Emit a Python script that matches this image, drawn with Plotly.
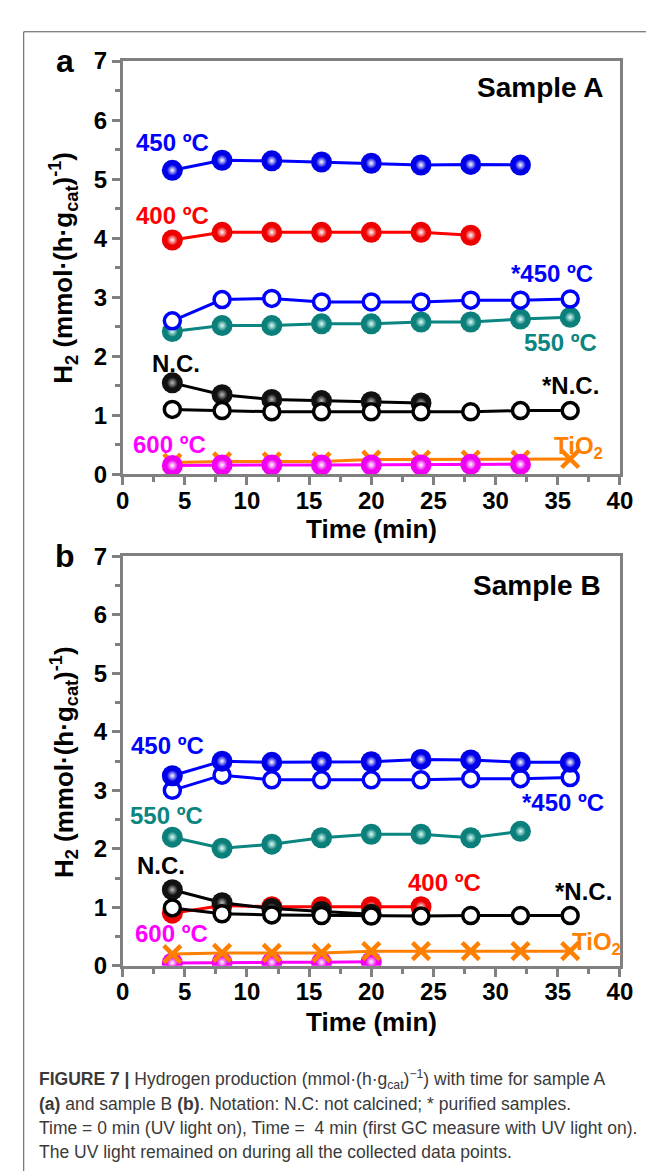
import plotly.graph_objects as go

# ---------------- data ----------------
T = [4, 8, 12, 16, 20, 24, 28, 32, 36]

# Sample A
a_450 = [5.15, 5.32, 5.31, 5.29, 5.27, 5.24, 5.25, 5.24]
a_400 = [3.97, 4.10, 4.10, 4.10, 4.10, 4.10, 4.05]
a_450p = [2.60, 2.96, 2.98, 2.92, 2.92, 2.92, 2.95, 2.95, 2.97]
a_550 = [2.42, 2.52, 2.52, 2.55, 2.55, 2.58, 2.58, 2.63, 2.66]
a_nc = [1.55, 1.35, 1.27, 1.25, 1.23, 1.21]
a_ncp = [1.10, 1.08, 1.06, 1.06, 1.06, 1.06, 1.06, 1.08, 1.08]
a_tio2 = [0.20, 0.22, 0.22, 0.22, 0.25, 0.25, 0.25, 0.25, 0.26]
a_600 = [0.15, 0.16, 0.16, 0.16, 0.16, 0.16, 0.17, 0.17]

# Sample B
b_450 = [3.25, 3.50, 3.48, 3.49, 3.49, 3.53, 3.52, 3.48, 3.48]
b_450p = [3.00, 3.26, 3.18, 3.18, 3.18, 3.18, 3.20, 3.20, 3.22]
b_550 = [2.20, 2.01, 2.08, 2.19, 2.25, 2.25, 2.19, 2.30]
b_nc = [1.30, 1.08, 0.98, 0.93, 0.88]
b_ncp = [0.99, 0.89, 0.87, 0.86, 0.85, 0.85, 0.86, 0.86, 0.86]
b_400 = [0.90, 1.03, 1.01, 1.01, 1.01, 1.01]
b_tio2 = [0.20, 0.22, 0.22, 0.22, 0.25, 0.25, 0.25, 0.25, 0.25]
b_600 = [0.05, 0.06, 0.06, 0.06, 0.07]

x_ticks = [0, 5, 10, 15, 20, 25, 30, 35, 40]
y_ticks = [0, 1, 2, 3, 4, 5, 6, 7]

# ---------------- styles ----------------
BLUE = "#0000FF"
RED = "#FF0000"
TEAL = "#0B8580"
BLACK = "#000000"
MAGENTA = "#FF00FF"
ORANGE = "#FF8000"
FONT = "Liberation Sans, Arial, sans-serif"

fig = go.Figure()


def sphere(y, color, edge, hl, ax):
    xs = T[:len(y)]
    fig.add_trace(go.Scatter(
        x=xs, y=y, mode="lines+markers", xaxis=ax[0], yaxis=ax[1],
        line=dict(color=color, width=3),
        marker=dict(size=21, color=edge, line=dict(width=0)),
        showlegend=False, hoverinfo="skip"))
    fig.add_trace(go.Scatter(
        x=xs, y=y, mode="markers", xaxis=ax[0], yaxis=ax[1],
        marker=dict(size=11, color=edge,
                    gradient=dict(type="radial", color=hl),
                    line=dict(width=0)),
        showlegend=False, hoverinfo="skip"))


def hollow(y, color, ax):
    xs = T[:len(y)]
    fig.add_trace(go.Scatter(
        x=xs, y=y, mode="lines+markers", xaxis=ax[0], yaxis=ax[1],
        line=dict(color=color, width=3),
        marker=dict(size=16, color="white", line=dict(color=color, width=3.5)),
        showlegend=False, hoverinfo="skip"))


def cross(y, color, ax):
    xs = T[:len(y)]
    fig.add_trace(go.Scatter(
        x=xs, y=y, mode="lines+markers", xaxis=ax[0], yaxis=ax[1],
        line=dict(color=color, width=3),
        marker=dict(size=17, symbol="x-thin", color=color,
                    line=dict(color=color, width=4.5)),
        showlegend=False, hoverinfo="skip"))


A = ("x", "y")
B = ("x2", "y2")

# Panel A
cross(a_tio2, ORANGE, A)
sphere(a_600, MAGENTA, "#F000F0", "#FFFFFF", A)
sphere(a_nc, BLACK, "#111111", "#BBBBBB", A)
hollow(a_ncp, BLACK, A)
sphere(a_550, TEAL, "#0B7F7A", "#E0FFFA", A)
hollow(a_450p, BLUE, A)
sphere(a_400, RED, "#EE0000", "#FFFFFF", A)
sphere(a_450, BLUE, "#0000E8", "#FFFFFF", A)

# Panel B
sphere(b_600, MAGENTA, "#F000F0", "#FFFFFF", B)
cross(b_tio2, ORANGE, B)
sphere(b_400, RED, "#EE0000", "#FFFFFF", B)
sphere(b_nc, BLACK, "#111111", "#BBBBBB", B)
hollow(b_ncp, BLACK, B)
sphere(b_550, TEAL, "#0B7F7A", "#E0FFFA", B)
hollow(b_450p, BLUE, B)
sphere(b_450, BLUE, "#0000E8", "#FFFFFF", B)

axis_common = dict(
    showline=True, linecolor="#808080", linewidth=2.5, mirror=True,
    ticks="outside", ticklen=8, tickwidth=2.5, tickcolor="#808080",
    showgrid=False, zeroline=False,
    tickfont=dict(family=FONT, size=24, color="black", weight="bold"),
)

xa = dict(axis_common, range=[0, 40], tickvals=x_ticks, ticklabelstandoff=-5,
          minor=dict(ticks="outside", ticklen=5, tickwidth=2.5,
                     tickcolor="#808080", dtick=2.5, tick0=0))
ya = dict(axis_common, range=[0, 7], tickvals=y_ticks,
          minor=dict(ticks="outside", ticklen=5, tickwidth=2.5,
                     tickcolor="#808080", dtick=0.5, tick0=0))

XD = [111 / 654, 624 / 654]
fig.update_layout(
    width=654, height=1176,
    margin=dict(l=0, r=0, t=0, b=0),
    font=dict(family=FONT, size=16, color="black"),
    paper_bgcolor="white", plot_bgcolor="white",
    xaxis=dict(xa, domain=XD, anchor="y"),
    yaxis=dict(ya, domain=[1 - 463 / 1176, 1 - 40 / 1176], anchor="x"),
    xaxis2=dict(xa, domain=XD, anchor="y2"),
    yaxis2=dict(ya, domain=[1 - 966 / 1176, 1 - 547 / 1176], anchor="x2"),
)

ann = []


def lab(text, x, y, color, ax, size=24, xanchor="center"):
    ann.append(dict(text=text, x=x, y=y, xref=ax[0], yref=ax[1],
                    showarrow=False, xanchor=xanchor, yanchor="middle",
                    font=dict(family=FONT, size=size, color=color, weight="bold")))


# Panel A labels
lab("450 ºC", 4.0, 5.62, BLUE, A)
lab("400 ºC", 4.0, 4.39, RED, A)
lab("*450 ºC", 34.5, 3.41, BLUE, A)
lab("550 ºC", 35.2, 2.24, TEAL, A)
lab("N.C.", 4.3, 1.87, BLACK, A)
lab("*N.C.", 36.0, 1.50, BLACK, A)
lab("TiO<sub>2</sub>", 36.7, 0.46, ORANGE, A)
lab("600 ºC", 3.8, 0.51, MAGENTA, A)
lab("Sample A", 38.9, 6.56, BLACK, A, size=28, xanchor="right")

# Panel B labels
lab("450 ºC", 3.6, 3.77, BLUE, B)
lab("*450 ºC", 35.4, 2.80, BLUE, B)
lab("550 ºC", 3.5, 2.57, TEAL, B)
lab("N.C.", 3.1, 1.72, BLACK, B)
lab("400 ºC", 25.9, 1.43, RED, B)
lab("*N.C.", 37.1, 1.27, BLACK, B)
lab("600 ºC", 3.9, 0.55, MAGENTA, B)
lab("TiO<sub>2</sub>", 38.1, 0.38, ORANGE, B)
lab("Sample B", 38.6, 6.50, BLACK, B, size=28, xanchor="right")


def paper_text(text, px, py, size, angle=0, xanchor="center", color="black",
               weight="bold", family=FONT):
    ann.append(dict(text=text, x=px / 654, y=1 - py / 1176, xref="paper",
                    yref="paper", showarrow=False, xanchor=xanchor,
                    yanchor="middle", textangle=angle,
                    font=dict(family=family, size=size, color=color, weight=weight)))


# panel letters
paper_text("a", 52, 40, 32)
paper_text("b", 52, 547, 32)

# axis titles
ytitle = "H<sub>2</sub> (mmol·(h·g<sub>cat</sub>)<sup>-1</sup>)"
paper_text("Time (min)", 368, 519, 26)
paper_text("Time (min)", 368, 1024, 26)
paper_text(ytitle, 50, 251, 26, angle=-90)
paper_text(ytitle, 50, 757, 26, angle=-90)

# caption
CAP = "Liberation Sans, Arial, sans-serif"
cap_lines = [
    "<b>FIGURE 7 |</b> Hydrogen production (mmol·(h·g<sub>cat</sub>)<sup>−1</sup>) with time for sample A",
    "<b>(a)</b> and sample B <b>(b)</b>. Notation: N.C: not calcined; * purified samples.",
    "Time = 0 min (UV light on), Time =  4 min (first GC measure with UV light on).",
    "The UV light remained on during all the collected data points.",
]
for i, line in enumerate(cap_lines):
    paper_text(line, 23, 1082 + 25 * i, 17.5, xanchor="left", color="#3a3a3a",
               weight="normal", family=CAP)

fig.update_layout(annotations=ann)

# outer frame (left & top edges)
fig.add_shape(type="line", xref="paper", yref="paper",
              x0=9 / 654, x1=9 / 654, y0=0, y1=1 - 10 / 1176,
              line=dict(color="#555555", width=1))
fig.add_shape(type="line", xref="paper", yref="paper",
              x0=9 / 654, x1=1, y0=1 - 10 / 1176, y1=1 - 10 / 1176,
              line=dict(color="#555555", width=1))

fig.write_html("out.html")
